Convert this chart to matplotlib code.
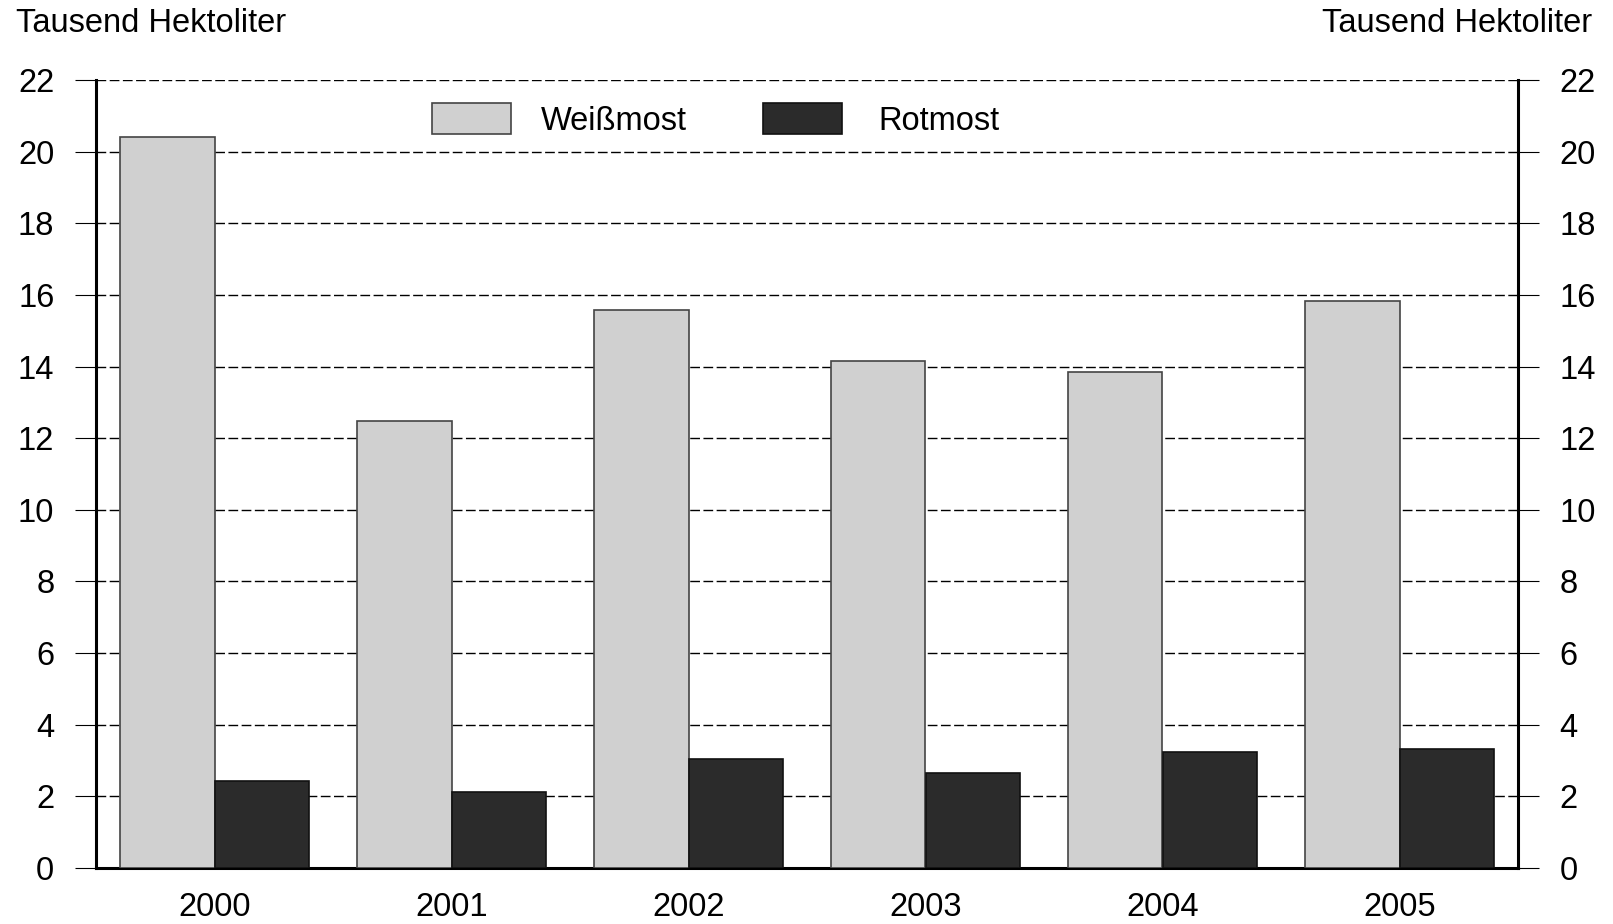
import numpy as np
import matplotlib.pyplot as plt
from matplotlib.transforms import ScaledTranslation

plt.rcParams['font.family'] = ['Liberation Sans', 'DejaVu Sans']

years = ['2000', '2001', '2002', '2003', '2004', '2005']
weissmost = [20.42, 12.48, 15.59, 14.15, 13.86, 15.82]
rotmost = [2.44, 2.13, 3.05, 2.65, 3.25, 3.31]
y_ticks = list(range(0, 23, 2))
unit_label = 'Tausend Hektoliter'

FS = 23.5

fig = plt.figure(figsize=(16.13, 9.24), dpi=100)
ax = fig.add_axes([96 / 1613, 56 / 924, 1422 / 1613, 788 / 924])

x = np.arange(len(years))
w = 0.4
ax.bar(x - w / 2, weissmost, width=w, color='#d0d0d0', edgecolor='#444444',
       linewidth=1.2, label='Weißmost', zorder=3)
ax.bar(x + w / 2, rotmost, width=w, color='#2b2b2b', edgecolor='#111111',
       linewidth=1.2, label='Rotmost', zorder=3)

ax.set_xlim(-0.5, len(years) - 0.5)
ax.set_ylim(0, 22)
ax.set_yticks(y_ticks)
ax.set_xticks(x)
ax.set_xticklabels(years)

ax.yaxis.grid(True, color='black', linewidth=1.0, linestyle=(0, (7, 2.5)), zorder=1)
ax.set_axisbelow(True)

for side in ['left', 'right', 'bottom']:
    ax.spines[side].set_linewidth(2.2)
    ax.spines[side].set_color('black')
ax.spines['top'].set_visible(False)

ax.tick_params(axis='y', which='both', left=True, right=True,
               labelleft=True, labelright=True, direction='out',
               length=15, width=0.8, pad=15, labelsize=FS)
ax.tick_params(axis='x', length=0, pad=17, labelsize=FS)

fig.text(16 / 1613, 1 - 23 / 924, unit_label, fontsize=FS, ha='left', va='center')
fig.text(1592 / 1613, 1 - 23 / 924, unit_label, fontsize=FS, ha='right', va='center')

leg = ax.legend(loc='center left', bbox_to_anchor=(0.236, 0.9495), ncol=2,
                frameon=False, fontsize=FS, handlelength=2.42, handleheight=1.07,
                handletextpad=0.92, columnspacing=2.33, borderpad=0, borderaxespad=0)
# second label sits a bit further from its patch in the original
t = leg.get_texts()[1]
t.set_transform(t.get_transform() + ScaledTranslation(0.07, 0, fig.dpi_scale_trans))

fig.savefig('out.png', dpi=100)
